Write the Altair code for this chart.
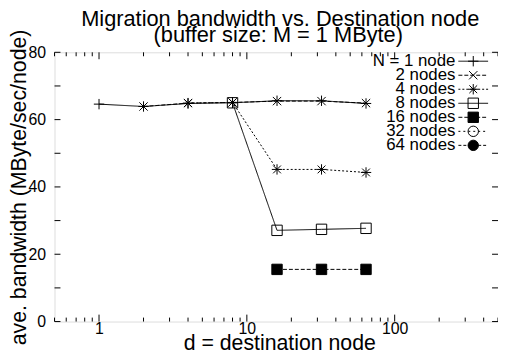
import altair as alt
import pandas as pd

# ---- data ----
labels = ["N = 1 node", "2 nodes", "4 nodes", "8 nodes", "16 nodes", "32 nodes", "64 nodes"]

d_n1 = [1, 2, 4, 8, 16, 32, 64]
bw_n1 = [64.6, 63.9, 64.8, 65.0, 65.6, 65.6, 64.8]

d_n2 = [2, 4, 8, 16, 32, 64]
bw_n2 = [63.9, 64.9, 65.1, 65.5, 65.5, 64.9]

d_n4 = [4, 8, 16, 32, 64]
bw_n4 = [64.9, 65.1, 45.2, 45.2, 44.3]

d_n8 = [8, 16, 32, 64]
bw_n8 = [65.0, 27.1, 27.4, 27.7]

d_n16 = [16, 32, 64]
bw_n16 = [15.5, 15.5, 15.5]

x_major = [1, 10, 100]
x_minor = [0.5, 0.6, 0.7, 0.8, 0.9, 2, 3, 4, 5, 6, 7, 8, 9,
           20, 30, 40, 50, 60, 70, 80, 90, 200, 300, 400, 500]
y_major = [0, 10, 20, 30, 40, 50, 60, 70, 80]

title_lines = ["Migration bandwidth vs. Destination node", "(buffer size: M = 1 MByte)"]

# ---- build tables ----
rows = []
for lab, ds, bs in [(labels[0], d_n1, bw_n1), (labels[1], d_n2, bw_n2),
                    (labels[2], d_n4, bw_n4), (labels[3], d_n8, bw_n8),
                    (labels[4], d_n16, bw_n16)]:
    for dv, bv in zip(ds, bs):
        rows.append({"label": lab, "d": dv, "bw": bv})
df = pd.DataFrame(rows)

leg = pd.DataFrame({"label": labels, "row": list(range(len(labels)))})

W, H = 448, 272
FONT = "Liberation Sans"

shape_paths = [
    "M-1,0L1,0M0,-1L0,1",
    "M-0.8,-0.8L0.8,0.8M-0.8,0.8L0.8,-0.8",
    "M-1,0L1,0M0,-1L0,1M-0.75,-0.75L0.75,0.75M-0.75,0.75L0.75,-0.75",
    "square", "square", "circle", "circle",
]
fills = ["transparent", "transparent", "transparent", "transparent", "black", "transparent", "black"]
sizes = [110, 110, 110, 80, 80, 60, 60]
dashes = [[1, 0], [4, 2], [2, 2], [1, 0], [4, 2], [2, 3], [3, 2]]

shape_enc = alt.Shape("label:N", scale=alt.Scale(domain=labels, range=shape_paths), legend=None)
fill_enc = alt.Fill("label:N", scale=alt.Scale(domain=labels, range=fills), legend=None)
size_enc = alt.Size("label:N", scale=alt.Scale(domain=labels, range=sizes), legend=None)
dash_enc = alt.StrokeDash("label:N", scale=alt.Scale(domain=labels, range=dashes), legend=None)

xscale = alt.Scale(type="log", domain=[0.5, 500], nice=False)
yscale = alt.Scale(domain=[0, 80], nice=False)

x_enc = alt.X("d:Q", scale=xscale,
              axis=alt.Axis(values=x_major, format="d", ticks=False, domain=False, grid=False,
                            labelFontSize=16, labelPadding=12, labelBaseline="alphabetic",
                            labelFont=FONT, labelColor="black",
                            title="d = destination node", titleFontSize=21.5, titleFont=FONT,
                            titleFontWeight="normal", titleColor="black",
                            titleX=227, titleY=28, titleBaseline="alphabetic", titleAlign="center"))
y_enc = alt.Y("bw:Q", scale=yscale,
              axis=alt.Axis(values=y_major, ticks=False, domain=False, grid=False,
                            labelFontSize=16, labelPadding=9, labelFont=FONT, labelColor="black",
                            title="ave. bandwidth (MByte/sec/node)", titleFontSize=21.5, titleFont=FONT,
                            titleFontWeight="normal", titleColor="black",
                            titleX=-29, titleY=H / 2, titleAngle=270, titleBaseline="alphabetic",
                            titleAlign="center"))

base = alt.Chart(df)
lines = base.mark_line(color="black", strokeWidth=1).encode(
    x=x_enc, y=y_enc, strokeDash=dash_enc, order="d:Q")
points = base.mark_point(stroke="black", strokeWidth=1, opacity=1).encode(
    x=alt.X("d:Q", scale=xscale), y=alt.Y("bw:Q", scale=yscale),
    shape=shape_enc, fill=fill_enc, size=size_enc)

# inward ticks on all four sides
ymaj = pd.DataFrame({"bw": y_major})
xmaj = pd.DataFrame({"d": x_major})
xmin_ = pd.DataFrame({"d": x_minor})
tick_style = dict(color="black", strokeWidth=1)
t_left = alt.Chart(ymaj).mark_rule(**tick_style).encode(
    y=alt.Y("bw:Q", scale=yscale), x=alt.value(0), x2=alt.value(6))
t_right = alt.Chart(ymaj).mark_rule(**tick_style).encode(
    y=alt.Y("bw:Q", scale=yscale), x=alt.value(W - 6), x2=alt.value(W))
t_bot = alt.Chart(xmaj).mark_rule(**tick_style).encode(
    x=alt.X("d:Q", scale=xscale), y=alt.value(H), y2=alt.value(H - 7))
t_top = alt.Chart(xmaj).mark_rule(**tick_style).encode(
    x=alt.X("d:Q", scale=xscale), y=alt.value(0), y2=alt.value(7))
tm_bot = alt.Chart(xmin_).mark_rule(**tick_style).encode(
    x=alt.X("d:Q", scale=xscale), y=alt.value(H), y2=alt.value(H - 4))
tm_top = alt.Chart(xmin_).mark_rule(**tick_style).encode(
    x=alt.X("d:Q", scale=xscale), y=alt.value(0), y2=alt.value(4))

main = alt.layer(lines, points, t_left, t_right, t_bot, t_top, tm_bot, tm_top)

# gnuplot-style key in the top-right corner
rowscale = alt.Scale(domain=[0, len(labels) - 1], range=[9, 94])
lb = alt.Chart(leg)
k_text = lb.mark_text(align="right", baseline="middle", fontSize=17, font=FONT, color="black").encode(
    x=alt.value(405), y=alt.Y("row:Q", scale=rowscale, axis=None), text="label:N")
k_line = lb.mark_rule(color="black", strokeWidth=1).encode(
    x=alt.value(408), x2=alt.value(438), y=alt.Y("row:Q", scale=rowscale, axis=None),
    strokeDash=dash_enc)
k_pts = lb.mark_point(stroke="black", strokeWidth=1, opacity=1).encode(
    x=alt.value(423), y=alt.Y("row:Q", scale=rowscale, axis=None),
    shape=shape_enc, fill=fill_enc, size=size_enc)

# two-line title drawn as text above the frame
t1 = alt.Chart(leg).transform_filter("datum.row == 0").mark_text(
    align="center", baseline="alphabetic", fontSize=22, font=FONT, color="black").encode(
    x=alt.value(228), y=alt.value(-27), text=alt.value(title_lines[0]))
t2 = alt.Chart(leg).transform_filter("datum.row == 0").mark_text(
    align="center", baseline="alphabetic", fontSize=22, font=FONT, color="black").encode(
    x=alt.value(226), y=alt.value(-10), text=alt.value(title_lines[1]))

key = alt.layer(k_text, k_line, k_pts, t1, t2)

chart = alt.layer(main, key).resolve_scale(y="independent").properties(
    width=W, height=H,
    autosize=alt.AutoSizeParams(type="none"),
    padding={"left": 47, "top": 43, "right": 0, "bottom": 29},
).configure_view(stroke="black", strokeWidth=1).configure(background="white")

chart.save("out.html", embed_options={"renderer": "svg", "actions": False})
